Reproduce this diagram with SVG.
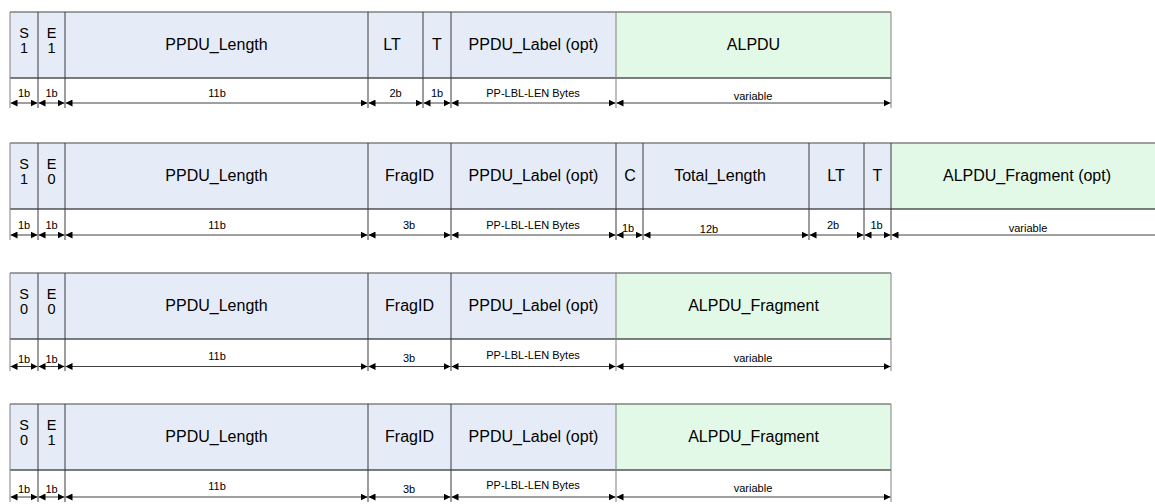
<svg xmlns="http://www.w3.org/2000/svg" width="1155" height="504" viewBox="0 0 1155 504">
<style>
.b{fill:#e6ecf7}
.g{fill:#e3f9e8}
text{font-family:"Liberation Sans",Arial,sans-serif;fill:#000;text-anchor:middle}
.l{font-size:16px}
.c{font-size:14.5px}
.s{font-size:11px}
.top{stroke:#808080;stroke-width:1.3}
.bot{stroke:#000;stroke-width:1}
.div{stroke:#3a3a3a;stroke-width:1}
.edge{stroke:#808080;stroke-width:1}
.arr{stroke:#404040;stroke-width:1;marker-start:url(#ah);marker-end:url(#ah)}
</style>
<defs>
<marker id="ah" markerUnits="userSpaceOnUse" markerWidth="7" markerHeight="7" refX="7" refY="3.5" orient="auto-start-reverse">
<path d="M0,0 L7,3.5 L0,7 z" fill="#000"/>
</marker>
</defs>
<rect width="1155" height="504" fill="#fff"/>

<!-- Row 1 -->
<g id="r1-S"><rect class="b" x="10" y="12" width="28" height="66"/><text class="c" x="24" y="38">S</text><text class="c" x="24" y="53">1</text></g>
<g id="r1-E"><rect class="b" x="38" y="12" width="27" height="66"/><text class="c" x="51.5" y="38">E</text><text class="c" x="51.5" y="53">1</text></g>
<g id="r1-PPDU_Length"><rect class="b" x="65" y="12" width="303" height="66"/><text class="l" x="216.5" y="50">PPDU_Length</text></g>
<g id="r1-LT"><rect class="b" x="368" y="12" width="55" height="66"/><text class="l" x="392" y="50">LT</text></g>
<g id="r1-T"><rect class="b" x="423" y="12" width="28" height="66"/><text class="l" x="437" y="50">T</text></g>
<g id="r1-PPDU_Label"><rect class="b" x="451" y="12" width="165" height="66"/><text class="l" x="533.5" y="50">PPDU_Label (opt)</text></g>
<g id="r1-ALPDU"><rect class="g" x="616" y="12" width="275" height="66"/><text class="l" x="753.5" y="50">ALPDU</text></g>

<!-- Row 2 -->
<g id="r2-S"><rect class="b" x="10" y="143" width="28" height="66"/><text class="c" x="24" y="169">S</text><text class="c" x="24" y="184">1</text></g>
<g id="r2-E"><rect class="b" x="38" y="143" width="27" height="66"/><text class="c" x="51.5" y="169">E</text><text class="c" x="51.5" y="184">0</text></g>
<g id="r2-PPDU_Length"><rect class="b" x="65" y="143" width="303" height="66"/><text class="l" x="216.5" y="181">PPDU_Length</text></g>
<g id="r2-FragID"><rect class="b" x="368" y="143" width="83" height="66"/><text class="l" x="409.5" y="181">FragID</text></g>
<g id="r2-PPDU_Label"><rect class="b" x="451" y="143" width="165" height="66"/><text class="l" x="533.5" y="181">PPDU_Label (opt)</text></g>
<g id="r2-C"><rect class="b" x="616" y="143" width="27" height="66"/><text class="l" x="630" y="181">C</text></g>
<g id="r2-Total_Length"><rect class="b" x="643" y="143" width="166" height="66"/><text class="l" x="720" y="181">Total_Length</text></g>
<g id="r2-LT"><rect class="b" x="809" y="143" width="55" height="66"/><text class="l" x="836" y="181">LT</text></g>
<g id="r2-T"><rect class="b" x="864" y="143" width="27" height="66"/><text class="l" x="877.5" y="181">T</text></g>
<g id="r2-ALPDU_Fragment"><rect class="g" x="891" y="143" width="264" height="66"/><text class="l" x="1027" y="181">ALPDU_Fragment (opt)</text></g>

<!-- Row 3 -->
<g id="r3-S"><rect class="b" x="10" y="273" width="28" height="66"/><text class="c" x="24" y="299">S</text><text class="c" x="24" y="314">0</text></g>
<g id="r3-E"><rect class="b" x="38" y="273" width="27" height="66"/><text class="c" x="51.5" y="299">E</text><text class="c" x="51.5" y="314">0</text></g>
<g id="r3-PPDU_Length"><rect class="b" x="65" y="273" width="303" height="66"/><text class="l" x="216.5" y="311">PPDU_Length</text></g>
<g id="r3-FragID"><rect class="b" x="368" y="273" width="83" height="66"/><text class="l" x="409.5" y="311">FragID</text></g>
<g id="r3-PPDU_Label"><rect class="b" x="451" y="273" width="165" height="66"/><text class="l" x="533.5" y="311">PPDU_Label (opt)</text></g>
<g id="r3-ALPDU_Fragment"><rect class="g" x="616" y="273" width="275" height="66"/><text class="l" x="753.5" y="311">ALPDU_Fragment</text></g>

<!-- Row 4 -->
<g id="r4-S"><rect class="b" x="10" y="404" width="28" height="66"/><text class="c" x="24" y="430">S</text><text class="c" x="24" y="445">0</text></g>
<g id="r4-E"><rect class="b" x="38" y="404" width="27" height="66"/><text class="c" x="51.5" y="430">E</text><text class="c" x="51.5" y="445">1</text></g>
<g id="r4-PPDU_Length"><rect class="b" x="65" y="404" width="303" height="66"/><text class="l" x="216.5" y="442">PPDU_Length</text></g>
<g id="r4-FragID"><rect class="b" x="368" y="404" width="83" height="66"/><text class="l" x="409.5" y="442">FragID</text></g>
<g id="r4-PPDU_Label"><rect class="b" x="451" y="404" width="165" height="66"/><text class="l" x="533.5" y="442">PPDU_Label (opt)</text></g>
<g id="r4-ALPDU_Fragment"><rect class="g" x="616" y="404" width="275" height="66"/><text class="l" x="753.5" y="442">ALPDU_Fragment</text></g>

<!-- frames -->
<g id="frames" fill="none">
<line class="top" x1="10" y1="12" x2="891" y2="12"/>
<line class="bot" x1="10" y1="78" x2="891" y2="78"/>
<line class="edge" x1="10" y1="12" x2="10" y2="108"/>
<line class="div" x1="38" y1="12" x2="38" y2="108"/>
<line class="div" x1="65" y1="12" x2="65" y2="108"/>
<line class="div" x1="368" y1="12" x2="368" y2="108"/>
<line class="div" x1="423" y1="12" x2="423" y2="108"/>
<line class="div" x1="451" y1="12" x2="451" y2="108"/>
<line class="edge" x1="616" y1="12" x2="616" y2="108"/>
<line class="edge" x1="891" y1="12" x2="891" y2="108"/>

<line class="top" x1="10" y1="143" x2="1155" y2="143"/>
<line class="bot" x1="10" y1="209" x2="1155" y2="209"/>
<line class="edge" x1="10" y1="143" x2="10" y2="240"/>
<line class="div" x1="38" y1="143" x2="38" y2="240"/>
<line class="div" x1="65" y1="143" x2="65" y2="240"/>
<line class="div" x1="368" y1="143" x2="368" y2="240"/>
<line class="div" x1="451" y1="143" x2="451" y2="240"/>
<line class="div" x1="616" y1="143" x2="616" y2="240"/>
<line class="div" x1="643" y1="143" x2="643" y2="240"/>
<line class="div" x1="809" y1="143" x2="809" y2="240"/>
<line class="div" x1="864" y1="143" x2="864" y2="240"/>
<line class="div" x1="891" y1="143" x2="891" y2="240"/>

<line class="top" x1="10" y1="273" x2="891" y2="273"/>
<line class="bot" x1="10" y1="339" x2="891" y2="339"/>
<line class="edge" x1="10" y1="273" x2="10" y2="371"/>
<line class="div" x1="38" y1="273" x2="38" y2="371"/>
<line class="div" x1="65" y1="273" x2="65" y2="371"/>
<line class="div" x1="368" y1="273" x2="368" y2="371"/>
<line class="div" x1="451" y1="273" x2="451" y2="371"/>
<line class="edge" x1="616" y1="273" x2="616" y2="371"/>
<line class="edge" x1="891" y1="273" x2="891" y2="371"/>

<line class="top" x1="10" y1="404" x2="891" y2="404"/>
<line class="bot" x1="10" y1="470" x2="891" y2="470"/>
<line class="edge" x1="10" y1="404" x2="10" y2="502"/>
<line class="div" x1="38" y1="404" x2="38" y2="502"/>
<line class="div" x1="65" y1="404" x2="65" y2="502"/>
<line class="div" x1="368" y1="404" x2="368" y2="502"/>
<line class="div" x1="451" y1="404" x2="451" y2="502"/>
<line class="edge" x1="616" y1="404" x2="616" y2="502"/>
<line class="edge" x1="891" y1="404" x2="891" y2="502"/>
</g>

<!-- connectors (size arrows) -->
<g id="connectors">
<line class="arr" x1="10.5" y1="103" x2="37.5" y2="103"/>
<line class="arr" x1="38.5" y1="103" x2="64.5" y2="103"/>
<line class="arr" x1="65.5" y1="103" x2="367.5" y2="103"/>
<line class="arr" x1="368.5" y1="103" x2="422.5" y2="103"/>
<line class="arr" x1="423.5" y1="103" x2="450.5" y2="103"/>
<line class="arr" x1="451.5" y1="103" x2="615.5" y2="103"/>
<line class="arr" x1="616.5" y1="103" x2="890.5" y2="103"/>

<line class="arr" x1="10.5" y1="235" x2="37.5" y2="235"/>
<line class="arr" x1="38.5" y1="235" x2="64.5" y2="235"/>
<line class="arr" x1="65.5" y1="235" x2="367.5" y2="235"/>
<line class="arr" x1="368.5" y1="235" x2="450.5" y2="235"/>
<line class="arr" x1="451.5" y1="235" x2="615.5" y2="235"/>
<line class="arr" x1="616.5" y1="235" x2="642.5" y2="235"/>
<line class="arr" x1="643.5" y1="235" x2="808.5" y2="235"/>
<line class="arr" x1="809.5" y1="235" x2="863.5" y2="235"/>
<line class="arr" x1="864.5" y1="235" x2="890.5" y2="235"/>
<line class="arr" x1="891.5" y1="235" x2="1162" y2="235"/>

<line class="arr" x1="10.5" y1="366.5" x2="37.5" y2="366.5"/>
<line class="arr" x1="38.5" y1="366.5" x2="64.5" y2="366.5"/>
<line class="arr" x1="65.5" y1="366.5" x2="367.5" y2="366.5"/>
<line class="arr" x1="368.5" y1="366.5" x2="450.5" y2="366.5"/>
<line class="arr" x1="451.5" y1="366.5" x2="615.5" y2="366.5"/>
<line class="arr" x1="616.5" y1="366.5" x2="890.5" y2="366.5"/>

<line class="arr" x1="10.5" y1="497" x2="37.5" y2="497"/>
<line class="arr" x1="38.5" y1="497" x2="64.5" y2="497"/>
<line class="arr" x1="65.5" y1="497" x2="367.5" y2="497"/>
<line class="arr" x1="368.5" y1="497" x2="450.5" y2="497"/>
<line class="arr" x1="451.5" y1="497" x2="615.5" y2="497"/>
<line class="arr" x1="616.5" y1="497" x2="890.5" y2="497"/>
</g>

<!-- size labels -->
<g id="sizes">
<text class="s" x="24" y="97">1b</text>
<text class="s" x="51.5" y="97">1b</text>
<text class="s" x="217" y="97">11b</text>
<text class="s" x="395.5" y="97">2b</text>
<text class="s" x="437" y="97">1b</text>
<text class="s" x="533" y="97">PP-LBL-LEN Bytes</text>
<text class="s" x="753" y="100">variable</text>

<text class="s" x="24" y="228.5">1b</text>
<text class="s" x="51.5" y="228.5">1b</text>
<text class="s" x="217" y="228.5">11b</text>
<text class="s" x="409" y="228.5">3b</text>
<text class="s" x="533" y="228.5">PP-LBL-LEN Bytes</text>
<text class="s" x="628" y="232">1b</text>
<text class="s" x="709" y="233">12b</text>
<text class="s" x="833" y="228.5">2b</text>
<text class="s" x="876.5" y="228.5">1b</text>
<text class="s" x="1028" y="232">variable</text>

<text class="s" x="24" y="362.5">1b</text>
<text class="s" x="51.5" y="362.5">1b</text>
<text class="s" x="217" y="360">11b</text>
<text class="s" x="409" y="362">3b</text>
<text class="s" x="533" y="359">PP-LBL-LEN Bytes</text>
<text class="s" x="753" y="362">variable</text>

<text class="s" x="24" y="493">1b</text>
<text class="s" x="51.5" y="493">1b</text>
<text class="s" x="217" y="490">11b</text>
<text class="s" x="409" y="493">3b</text>
<text class="s" x="533" y="489">PP-LBL-LEN Bytes</text>
<text class="s" x="753" y="492">variable</text>
</g>
</svg>
